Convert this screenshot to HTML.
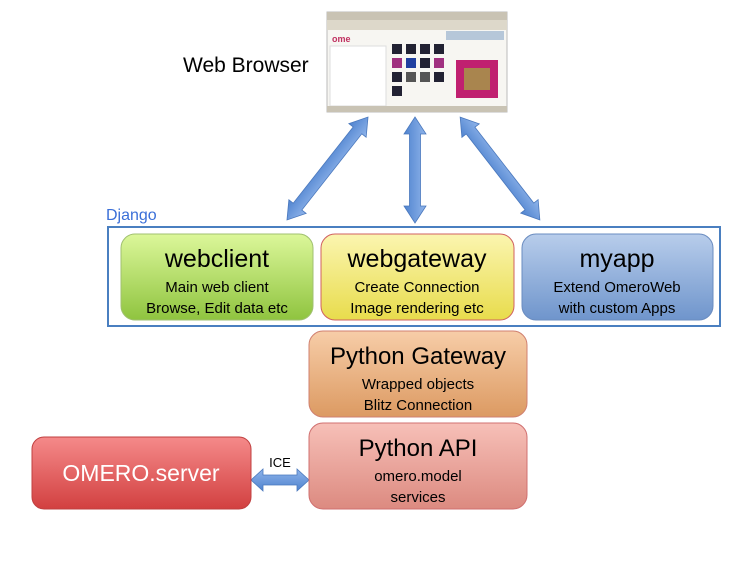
<!DOCTYPE html>
<html><head><meta charset="utf-8"><style>
body{margin:0;background:#fff;}
svg text{font-family:"Liberation Sans",sans-serif;}
</style></head><body>
<svg width="750" height="563" viewBox="0 0 750 563" xmlns="http://www.w3.org/2000/svg">
<defs>
<linearGradient id="gG" x1="0" y1="0" x2="0" y2="1"><stop offset="0" stop-color="#dcf79a"/><stop offset="1" stop-color="#8fc43f"/></linearGradient>
<linearGradient id="gY" x1="0" y1="0" x2="0" y2="1"><stop offset="0" stop-color="#fbf5b0"/><stop offset="1" stop-color="#e8dc4c"/></linearGradient>
<linearGradient id="gB" x1="0" y1="0" x2="0" y2="1"><stop offset="0" stop-color="#b8cdeb"/><stop offset="1" stop-color="#6f95cc"/></linearGradient>
<linearGradient id="gO" x1="0" y1="0" x2="0" y2="1"><stop offset="0" stop-color="#f7cda8"/><stop offset="1" stop-color="#dc9a62"/></linearGradient>
<linearGradient id="gP" x1="0" y1="0" x2="0" y2="1"><stop offset="0" stop-color="#f7c0b8"/><stop offset="1" stop-color="#dc8a80"/></linearGradient>
<linearGradient id="gR" x1="0" y1="0" x2="0" y2="1"><stop offset="0" stop-color="#f58a8a"/><stop offset="1" stop-color="#d24040"/></linearGradient>
<linearGradient id="gA" x1="0" y1="0" x2="0" y2="1"><stop offset="0" stop-color="#8fb4ea"/><stop offset="1" stop-color="#4f83cf"/></linearGradient>
</defs>
<!-- browser screenshot -->
<rect x="327" y="12" width="180" height="100" fill="#f7f6f2" stroke="#bbb"/>
<rect x="327" y="12" width="180" height="8" fill="#c9c3b4"/>
<rect x="327" y="20" width="180" height="10" fill="#ddd8ca"/>
<text x="332" y="42" font-size="9" fill="#c03060" font-weight="bold">ome</text>
<rect x="446" y="31" width="58" height="9" fill="#8aa8c8" opacity="0.6"/>
<rect x="330" y="46" width="56" height="60" fill="#fff" stroke="#ddd"/>
<rect x="456" y="60" width="42" height="38" fill="#c02070"/>
<rect x="464" y="68" width="26" height="22" fill="#a0b040" opacity="0.7"/>
<g fill="#223">
<rect x="392" y="44" width="10" height="10"/><rect x="406" y="44" width="10" height="10"/><rect x="420" y="44" width="10" height="10"/><rect x="434" y="44" width="10" height="10"/>
<rect x="392" y="58" width="10" height="10" fill="#a03080"/><rect x="406" y="58" width="10" height="10" fill="#2040a0"/><rect x="420" y="58" width="10" height="10"/><rect x="434" y="58" width="10" height="10" fill="#a03080"/>
<rect x="392" y="72" width="10" height="10"/><rect x="406" y="72" width="10" height="10" fill="#555"/><rect x="420" y="72" width="10" height="10" fill="#555"/><rect x="434" y="72" width="10" height="10"/>
<rect x="392" y="86" width="10" height="10"/>
</g>
<rect x="327" y="106" width="180" height="6" fill="#c9c3b4"/>
<text x="183" y="72" font-size="21">Web Browser</text>
<!-- arrows -->
<g fill="url(#gA)" stroke="#4a78bd" stroke-width="0.8">
<polygon transform="translate(327.5,168.5) rotate(128.2)" points="-65.5,0 -48.5,-11 -48.5,-5.5 48.5,-5.5 48.5,-11 65.5,0 48.5,11 48.5,5.5 -48.5,5.5 -48.5,11"/>
<polygon transform="translate(415,170) rotate(90)" points="-53,0 -36,-11 -36,-5.5 36,-5.5 36,-11 53,0 36,11 36,5.5 -36,5.5 -36,11"/>
<polygon transform="translate(500,168.5) rotate(52.2)" points="-65,0 -48,-11 -48,-5.5 48,-5.5 48,-11 65,0 48,11 48,5.5 -48,5.5 -48,11"/>
<polygon transform="translate(280,480)" points="-29,0 -17,-11 -17,-5 17,-5 17,-11 29,0 17,11 17,5 -17,5 -17,11"/>
</g>
<!-- Django -->
<text x="106" y="220" font-size="16" fill="#3a6fd8">Django</text>
<rect x="108" y="227" width="612" height="99" fill="none" stroke="#4a7fc0" stroke-width="2"/>
<rect x="121" y="234" width="192" height="86" rx="14" fill="url(#gG)" stroke="#a0c070"/>
<text x="217" y="267" font-size="25" text-anchor="middle">webclient</text>
<text x="217" y="292" font-size="15" text-anchor="middle">Main web client</text>
<text x="217" y="313" font-size="15" text-anchor="middle">Browse, Edit data etc</text>
<rect x="321" y="234" width="193" height="86" rx="14" fill="url(#gY)" stroke="#d06060"/>
<text x="417" y="267" font-size="25" text-anchor="middle">webgateway</text>
<text x="417" y="292" font-size="15" text-anchor="middle">Create Connection</text>
<text x="417" y="313" font-size="15" text-anchor="middle">Image rendering etc</text>
<rect x="522" y="234" width="191" height="86" rx="14" fill="url(#gB)" stroke="#6a8cc0"/>
<text x="617" y="267" font-size="25" text-anchor="middle">myapp</text>
<text x="617" y="292" font-size="15" text-anchor="middle">Extend OmeroWeb</text>
<text x="617" y="313" font-size="15" text-anchor="middle">with custom Apps</text>
<!-- lower -->
<rect x="309" y="331" width="218" height="86" rx="14" fill="url(#gO)" stroke="#d08070"/>
<text x="418" y="364" font-size="24" text-anchor="middle">Python Gateway</text>
<text x="418" y="389" font-size="15" text-anchor="middle">Wrapped objects</text>
<text x="418" y="410" font-size="15" text-anchor="middle">Blitz Connection</text>
<rect x="309" y="423" width="218" height="86" rx="14" fill="url(#gP)" stroke="#d07070"/>
<text x="418" y="456" font-size="24" text-anchor="middle">Python API</text>
<text x="418" y="481" font-size="15" text-anchor="middle">omero.model</text>
<text x="418" y="502" font-size="15" text-anchor="middle">services</text>
<rect x="32" y="437" width="219" height="72" rx="12" fill="url(#gR)" stroke="#c04040"/>
<text x="141" y="481" font-size="23" fill="#fff" text-anchor="middle">OMERO.server</text>
<text x="280" y="467" font-size="13" text-anchor="middle">ICE</text>
</svg>
</body></html>
